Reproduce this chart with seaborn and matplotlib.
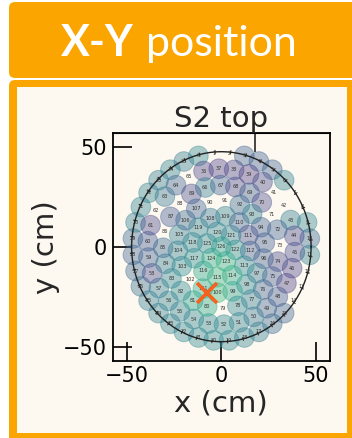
import numpy as np
import pandas as pd
import matplotlib
matplotlib.use("Agg")
import matplotlib.pyplot as plt
import seaborn as sns
from matplotlib.patches import FancyBboxPatch, Rectangle
from matplotlib.collections import LineCollection
from matplotlib.transforms import IdentityTransform

W, H = 352, 438
nan = np.nan

# Top-array PMT rings, outermost first: radius (cm), angle of first PMT (deg), count
ring_radius = [47.0, 39.0, 30.8, 23.1, 15.4, 7.7, 0.0]
ring_start = [105, 104, 106, 105, 112, 108, 90]
ring_count = [36, 30, 24, 18, 12, 6, 1]

# S2 signal fraction per PMT (nan = PMT switched off), numbered clockwise per ring
signal_r6 = [0.44, nan, nan, 0.30, 0.28, 0.30, 0.42, nan, nan, 0.44, 0.32, 0.42,
             nan, nan, nan, 0.30, 0.32, 0.40, 0.42, 0.44, 0.45, 0.44, 0.43, 0.42,
             0.42, 0.40, 0.34, 0.32, 0.30, 0.32, 0.40, 0.42, 0.42, 0.40, 0.42, 0.40]
signal_r5 = [0.18, 0.17, 0.19, 0.16, 0.20, nan, nan, 0.40, 0.19, 0.22, 0.18, 0.17,
             0.26, 0.30, 0.38, 0.42, 0.44, 0.45, 0.44, 0.42, 0.42, 0.40, 0.20, 0.28,
             0.26, 0.19, nan, 0.38, 0.30, nan]
signal_r4 = [0.40, 0.30, 0.20, 0.27, 0.21, nan, 0.30, nan, 0.20, 0.26, 0.30, 0.40,
             0.44, nan, 0.60, 0.56, 0.46, 0.44, 0.40, 0.32, nan, 0.26, nan, 0.21]
signal_r3 = [nan, nan, 0.32, 0.42, 0.28, 0.27, 0.28, 0.38, 0.44, 0.55, 0.66, 0.60,
             nan, 0.46, 0.42, 0.40, 0.32, 0.30]
signal_r2 = [0.38, 0.42, 0.30, 0.23, 0.28, 0.46, 0.60, 0.64, 0.58, 0.48, 0.44, 0.42]
signal_r1 = [0.44, 0.42, 0.48, 0.62, 0.60, 0.46]
signal_r0 = [0.54]
ring_signal = [signal_r6, signal_r5, signal_r4, signal_r3, signal_r2, signal_r1, signal_r0]

# Reconstructed interaction position (cm) and TPC wall radius (cm)
pos_x, pos_y = -7.5, -23.0
wall_radius = 47.5

ticks = [-50, 0, 50]
tick_labels = ["\u221250", "0", "50"]

# Build the PMT table from the ring description
rows = []
pmt_id = 0
for r, a0, n, sig in zip(ring_radius, ring_start, ring_count, ring_signal):
    step = 360.0 / n
    for i in range(n):
        ang = np.deg2rad(a0 - step * i)
        rows.append(dict(pmt=pmt_id, x=r * np.cos(ang), y=r * np.sin(ang), signal=sig[i]))
        pmt_id += 1
pmts = pd.DataFrame(rows)
active = pmts.dropna(subset=["signal"])

cream = "#fdf8f0"
orange = "#fba500"

sns.set_style("white")
plt.rcParams["font.family"] = ["DejaVu Sans"]

fig = plt.figure(figsize=(W / 100, H / 100), dpi=100, facecolor="white")

# Header banner and panel frame (pixel coordinates), kept behind the axes
ident = IdentityTransform()
fig.add_artist(FancyBboxPatch((9, H - 78), 360, 76, boxstyle="round,pad=0,rounding_size=6",
                              transform=ident, facecolor=orange, edgecolor="none", zorder=-10))
fig.add_artist(FancyBboxPatch((9, -10), 360, H - 80 + 10, boxstyle="round,pad=0,rounding_size=6",
                              transform=ident, facecolor=orange, edgecolor="none", zorder=-10))
fig.add_artist(Rectangle((17, 5), 330, H - 87 - 5, transform=ident,
                         facecolor=cream, edgecolor="none", zorder=-9))
fig.text(61, H - 56, "X-Y", transform=ident, fontsize=31, fontweight="bold",
         family=["Lato", "DejaVu Sans"], color="white", va="baseline", ha="left")
fig.text(146, H - 56, "position", transform=ident, fontsize=31, fontweight="normal",
         family=["Lato", "DejaVu Sans"], color="white", va="baseline", ha="left")

left, right, top, bottom = 112.7, 330.0, 132.7, 360.7
ax = fig.add_axes([left / W, 1 - bottom / H, (right - left) / W, (bottom - top) / H])
ax.set_facecolor(cream)

sns.scatterplot(data=active, x="x", y="y", hue="signal", palette="viridis",
                hue_norm=(0, 1), s=200, alpha=0.38, edgecolor="face", linewidth=0.7,
                legend=False, ax=ax, zorder=2)

for _, p in pmts.iterrows():
    ax.text(p.x, p.y, str(int(p.pmt)), fontsize=3.6, ha="center", va="center",
            color="#333333", zorder=3)

# TPC wall with radial tick marks
th = np.linspace(0, 2 * np.pi, 400)
ax.plot(wall_radius * np.cos(th), wall_radius * np.sin(th), color="#222222", lw=1.0, zorder=4)
wt = np.deg2rad(np.arange(4, 364, 10))
segs = [[((wall_radius - 1.0) * np.cos(t), (wall_radius - 1.0) * np.sin(t)),
         ((wall_radius + 1.0) * np.cos(t), (wall_radius + 1.0) * np.sin(t))] for t in wt]
ax.add_collection(LineCollection(segs, colors="#222222", linewidths=0.7, zorder=4))

ax.plot([pos_x], [pos_y], marker="x", markersize=15, mew=2.6, color="#f4621f",
        linestyle="none", zorder=5)

ax.set_xlim(-57.5, 57.5)
ax.set_ylim(-57, 57)
ax.set_xticks(ticks)
ax.set_xticklabels(tick_labels)
ax.set_yticks(ticks)
ax.set_yticklabels(tick_labels)
ax.tick_params(direction="in", length=14, width=1.2, labelsize=15, pad=4,
               colors="black", left=True, bottom=True)
for sp in ax.spines.values():
    sp.set_visible(True)
    sp.set_color("black")
    sp.set_linewidth(1.3)

sec = ax.secondary_xaxis("top")
sec.set_xticks([18])
sec.set_xticklabels([])
sec.tick_params(direction="in", length=14, width=1.2)

ax.set_title("S2 top", fontsize=21, pad=3)
ax.set_xlabel("x (cm)", fontsize=21, labelpad=2)
ax.set_ylabel("y (cm)", fontsize=21, labelpad=2)

fig.savefig("out.png", dpi=100, facecolor="white")
